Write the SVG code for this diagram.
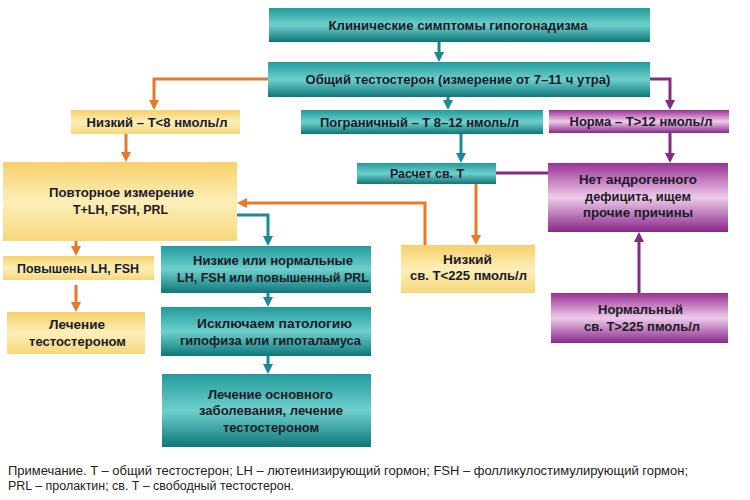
<svg xmlns="http://www.w3.org/2000/svg" width="750" height="500" viewBox="0 0 750 500">
<style>
.t{font-family:"Liberation Sans",Arial,sans-serif;font-weight:bold;font-size:13px;fill:#1a1a28;text-anchor:middle}
.n{font-family:"Liberation Sans",Arial,sans-serif;font-size:12px;fill:#222}
.teal{fill:url(#gT)}
.yel{fill:url(#gY)}
.pur{fill:url(#gP)}
.c{fill:none;stroke-width:3}
.ct{stroke:#1b8a94}
.co{stroke:#e8782a}
.cp{stroke:#862a86}
</style>
<defs>
<linearGradient id="gT" x1="0" y1="0" x2="0" y2="1">
<stop offset="0" stop-color="#239a9c"/>
<stop offset="0.5" stop-color="#6ed0cc"/>
<stop offset="1" stop-color="#0f7779"/>
</linearGradient>
<linearGradient id="gY" x1="0" y1="0" x2="0" y2="1">
<stop offset="0" stop-color="#f6d06a"/>
<stop offset="0.5" stop-color="#fdefb8"/>
<stop offset="1" stop-color="#f7d77c"/>
</linearGradient>
<linearGradient id="gP" x1="0" y1="0" x2="0" y2="1">
<stop offset="0" stop-color="#9a3195"/>
<stop offset="0.5" stop-color="#edcbe9"/>
<stop offset="1" stop-color="#8a278a"/>
</linearGradient>
<marker id="aT" markerUnits="userSpaceOnUse" markerWidth="10" markerHeight="10" refX="3" refY="5" orient="auto"><path d="M0,0 L10,5 L0,10 z" fill="#1b8a94"/></marker>
<marker id="aO" markerUnits="userSpaceOnUse" markerWidth="10" markerHeight="10" refX="3" refY="5" orient="auto"><path d="M0,0 L10,5 L0,10 z" fill="#e8782a"/></marker>
<marker id="aP" markerUnits="userSpaceOnUse" markerWidth="10" markerHeight="10" refX="3" refY="5" orient="auto"><path d="M0,0 L10,5 L0,10 z" fill="#862a86"/></marker>
</defs>
<rect width="750" height="500" fill="#ffffff"/>

<g id="connectors">
<path class="c ct" d="M439,42 V55" marker-end="url(#aT)"/>
<path class="c ct" d="M448,97 V103" marker-end="url(#aT)"/>
<path class="c ct" d="M461,134 V156" marker-end="url(#aT)"/>
<path class="c ct" d="M237,215 H268 V239" marker-end="url(#aT)"/>
<path class="c ct" d="M268,293 V300" marker-end="url(#aT)"/>
<path class="c ct" d="M268,356 V367" marker-end="url(#aT)"/>
<path class="c co" d="M268,79 H154 V103" marker-end="url(#aO)"/>
<path class="c co" d="M126,134 V155" marker-end="url(#aO)"/>
<path class="c co" d="M476,184 V238" marker-end="url(#aO)"/>
<path class="c co" d="M425,245 V203 H244" marker-end="url(#aO)"/>
<path class="c co" d="M76,241 V249" marker-end="url(#aO)"/>
<path class="c co" d="M76,285 V305" marker-end="url(#aO)"/>
<path class="c cp" d="M650,79 H670 V103" marker-end="url(#aP)"/>
<path class="c cp" d="M670,133 V156" marker-end="url(#aP)"/>
<path class="c cp" d="M496,173 H548"/>
<path class="c cp" d="M639,293 V239" marker-end="url(#aP)"/>
</g>

<g id="n1"><rect class="teal" x="269" y="8" width="381" height="34"/>
<text class="t" x="458" y="29.5" textLength="259" lengthAdjust="spacingAndGlyphs">Клинические симптомы гипогонадизма</text></g>

<g id="n2"><rect class="teal" x="268" y="62" width="382" height="35"/>
<text class="t" x="458" y="84" textLength="305" lengthAdjust="spacingAndGlyphs">Общий тестостерон (измерение от 7–11 ч утра)</text></g>

<g id="n3"><rect class="yel" x="71" y="110" width="169" height="24"/>
<text class="t" x="157" y="126.5" textLength="141" lengthAdjust="spacingAndGlyphs">Низкий – T&lt;8 нмоль/л</text></g>

<g id="n4"><rect class="teal" x="301" y="110" width="242" height="24"/>
<text class="t" x="419.5" y="126.5" textLength="199" lengthAdjust="spacingAndGlyphs">Пограничный – T 8–12 нмоль/л</text></g>

<g id="n5"><rect class="pur" x="549" y="110" width="180" height="23"/>
<text class="t" x="641" y="126" textLength="143" lengthAdjust="spacingAndGlyphs">Норма – T&gt;12 нмоль/л</text></g>

<g id="n6"><rect class="yel" x="3" y="162" width="234" height="79"/>
<text class="t" x="121.5" y="197" textLength="145" lengthAdjust="spacingAndGlyphs">Повторное измерение</text>
<text class="t" x="120.5" y="214" textLength="95" lengthAdjust="spacingAndGlyphs">T+LH, FSH, PRL</text></g>

<g id="n7"><rect class="teal" x="357" y="163" width="139" height="21"/>
<text class="t" x="427" y="178" textLength="74" lengthAdjust="spacingAndGlyphs">Расчет св. T</text></g>

<g id="n8"><rect class="pur" x="548" y="163" width="180" height="69"/>
<text class="t" x="638" y="184" textLength="118" lengthAdjust="spacingAndGlyphs">Нет андрогенного</text>
<text class="t" x="638" y="201" textLength="106" lengthAdjust="spacingAndGlyphs">дефицита, ищем</text>
<text class="t" x="638" y="217" textLength="110" lengthAdjust="spacingAndGlyphs">прочие причины</text></g>

<g id="n9"><rect class="yel" x="3" y="256" width="151" height="24"/>
<text class="t" x="78" y="272.5" textLength="122" lengthAdjust="spacingAndGlyphs">Повышены LH, FSH</text></g>

<g id="n10"><rect class="teal" x="161" y="246" width="210" height="47"/>
<text class="t" x="273" y="264.5" textLength="160" lengthAdjust="spacingAndGlyphs">Низкие или нормальные</text>
<text class="t" x="273" y="281.5" textLength="192" lengthAdjust="spacingAndGlyphs">LH, FSH или повышенный PRL</text></g>

<g id="n11"><rect class="yel" x="401" y="245" width="134" height="48"/>
<text class="t" x="467.5" y="263.5" textLength="49" lengthAdjust="spacingAndGlyphs">Низкий</text>
<text class="t" x="468.5" y="279.5" textLength="117" lengthAdjust="spacingAndGlyphs">св. T&lt;225 пмоль/л</text></g>

<g id="n12"><rect class="pur" x="551" y="293" width="177" height="50"/>
<text class="t" x="640.5" y="313.5" textLength="85" lengthAdjust="spacingAndGlyphs">Нормальный</text>
<text class="t" x="642" y="331" textLength="116" lengthAdjust="spacingAndGlyphs">св. T&gt;225 пмоль/л</text></g>

<g id="n13"><rect class="yel" x="7" y="312" width="138" height="42"/>
<text class="t" x="77" y="328.5" textLength="56" lengthAdjust="spacingAndGlyphs">Лечение</text>
<text class="t" x="77.5" y="345.5" textLength="97" lengthAdjust="spacingAndGlyphs">тестостероном</text></g>

<g id="n14"><rect class="teal" x="161" y="307" width="210" height="49"/>
<text class="t" x="274.5" y="327.5" textLength="155" lengthAdjust="spacingAndGlyphs">Исключаем патологию</text>
<text class="t" x="270.5" y="344.5" textLength="181" lengthAdjust="spacingAndGlyphs">гипофиза или гипоталамуса</text></g>

<g id="n15"><rect class="teal" x="162" y="374" width="209" height="73"/>
<text class="t" x="270.5" y="398.5" textLength="125" lengthAdjust="spacingAndGlyphs">Лечение основного</text>
<text class="t" x="271" y="414.5" textLength="144" lengthAdjust="spacingAndGlyphs">заболевания, лечение</text>
<text class="t" x="271" y="431.5" textLength="96" lengthAdjust="spacingAndGlyphs">тестостероном</text></g>

<g id="note">
<text class="n" x="8" y="475" textLength="680" lengthAdjust="spacingAndGlyphs">Примечание. T – общий тестостерон; LH – лютеинизирующий гормон; FSH – фолликулостимулирующий гормон;</text>
<text class="n" x="8" y="490" textLength="286" lengthAdjust="spacingAndGlyphs">PRL – пролактин; св. T – свободный тестостерон.</text>
</g>
</svg>
